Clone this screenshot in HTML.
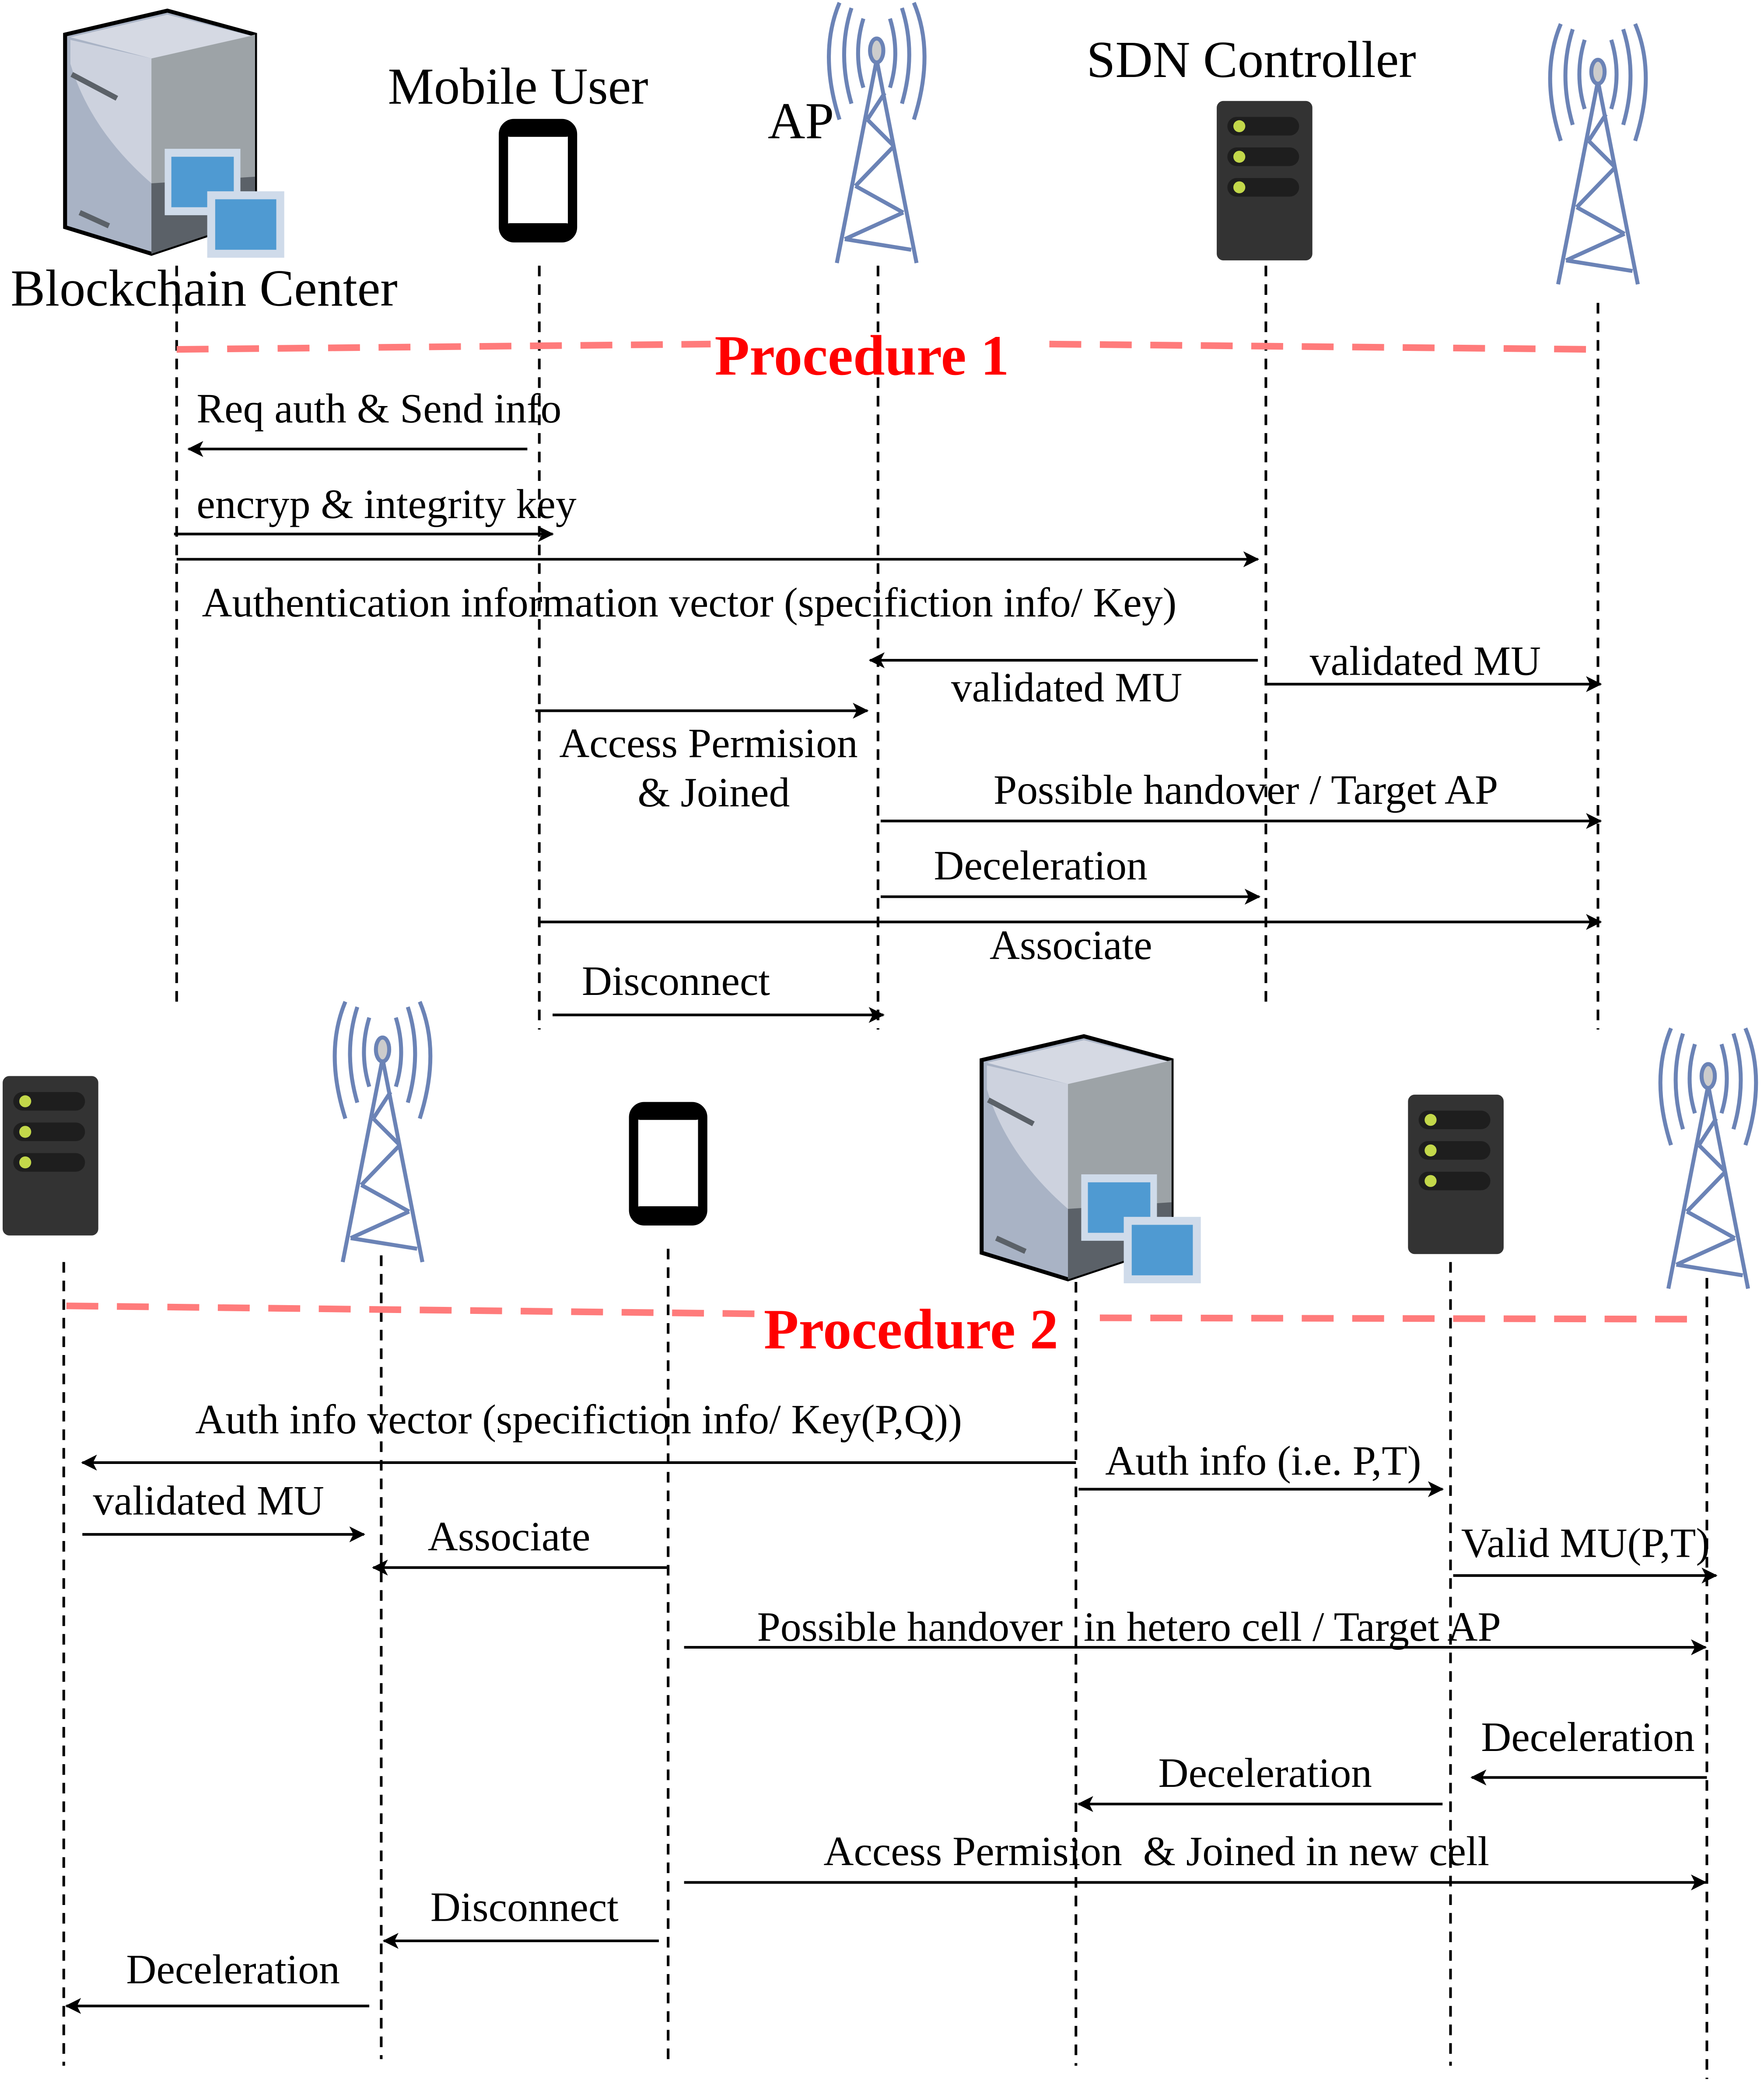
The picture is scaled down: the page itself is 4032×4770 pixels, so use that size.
<!DOCTYPE html>
<html><head><meta charset="utf-8"><style>
html,body{margin:0;padding:0;background:#fff;width:4032px;height:4770px;overflow:hidden}
svg{display:block}
text{font-family:"Liberation Serif",serif;fill:#000}
</style></head><body>
<svg width="4032" height="4770" viewBox="0 0 1328 1571" preserveAspectRatio="none" xmlns="http://www.w3.org/2000/svg">
<defs>
<marker id="a" markerWidth="12" markerHeight="12" refX="11" refY="6" orient="auto" markerUnits="userSpaceOnUse">
<path d="M0,0 L12,6 L0,12 L3,6 Z" fill="#000"/></marker>
<g id="tower" fill="none" stroke="#6b83b6" stroke-width="3">
<path d="M40,45 L10,198 M40,45 L70,198 M33,90 L46,70 M33,90 L53,110 M53,110 L24,140 M24,140 L60,160 M60,160 L16,180 M16,180 L66,188"/>
<path d="M30,14 Q22,40 30,66 M50,14 Q58,40 50,66 M21,6 Q10,40 21,78 M59,6 Q70,40 59,78 M12,2 Q-4,40 12,90 M68,2 Q84,40 68,90"/>
<ellipse cx="40" cy="38" rx="5" ry="9" fill="#ccc"/>
</g>
<g id="rack">
<rect x="0" y="0" width="72" height="120" rx="5" fill="#333"/>
<rect x="8" y="12" width="54" height="14" rx="7" fill="#1e1e1e"/>
<rect x="8" y="35" width="54" height="14" rx="7" fill="#1e1e1e"/>
<rect x="8" y="58" width="54" height="14" rx="7" fill="#1e1e1e"/>
<circle cx="17" cy="19" r="4.5" fill="#c3d84a"/><circle cx="17" cy="42" r="4.5" fill="#c3d84a"/><circle cx="17" cy="65" r="4.5" fill="#c3d84a"/>
</g>
<g id="phone"><rect x="3" y="3" width="52" height="86" rx="8" fill="#fff" stroke="#000" stroke-width="7"/><rect x="3" y="3" width="52" height="10" rx="5" fill="#000"/><rect x="3" y="78" width="52" height="11" rx="5" fill="#000"/></g>
<g id="bc">
<path d="M1,18 L78,0 L144,18 L144,157 L66,183 L1,163 Z" fill="#a9b3c5" stroke="#000" stroke-width="3"/>
<path d="M66,36 L144,18 L144,157 L66,183 Z" fill="#9da3a7"/>
<path d="M66,130 L144,125 L144,157 L66,183 Z" fill="#5b6168"/>
<path d="M5,20 L78,3 L141,19 L66,36 Z" fill="#d5d9e3"/>
<path d="M5,22 L66,36 L66,130 Q20,90 5,40 Z" fill="#cdd2de"/>
<path d="M6,48 L40,66" stroke="#5b6168" stroke-width="4"/>
<path d="M12,152 L34,162" stroke="#5b6168" stroke-width="4"/>
<rect x="76" y="104" width="57" height="50" fill="#cfdbea"/><rect x="81" y="110" width="47" height="38" fill="#4f9ad2"/>
<rect x="108" y="136" width="58" height="50" fill="#cfdbea"/><rect x="114" y="142" width="46" height="38" fill="#4f9ad2"/>
</g>
</defs>

<use href="#bc" transform="translate(48,8)"/>
<use href="#phone" transform="translate(376,90)"/>
<use href="#tower" transform="translate(620,0)"/>
<use href="#rack" transform="translate(916,76)"/>
<use href="#tower" transform="translate(1163,16)"/>
<text x="8" y="230" font-size="39">Blockchain Center</text>
<text x="292" y="78" font-size="39">Mobile User</text>
<text x="578" y="104" font-size="39">AP</text>
<text x="818" y="58" font-size="39">SDN Controller</text>

<g stroke="#000" stroke-width="2" stroke-dasharray="8,6" fill="none">
<path d="M133,200 V755 M406,200 V775 M661,200 V775 M953,200 V755 M1203,228 V775"/>
<path d="M48,950 V1555 M287,945 V1550 M503,940 V1550 M810,965 V1555 M1092,950 V1555 M1285,962 V1565"/>
</g>

<g stroke="#ff7b7b" stroke-width="5" stroke-dasharray="24,14" fill="none">
<path d="M133,263 L535,259 M790,259 L1200,263"/>
<path d="M50,983 L570,989 M828,992 L1272,993"/>
</g>
<text x="538" y="282" font-size="43" font-weight="bold" style="fill:#ff0000">Procedure 1</text>
<text x="575" y="1015" font-size="43" font-weight="bold" style="fill:#ff0000">Procedure 2</text>

<g stroke="#000" stroke-width="2" marker-end="url(#a)" fill="none">
<path d="M397,338 H142"/><path d="M131,402 H416"/><path d="M133,421 H947"/>
<path d="M947,497 H655"/><path d="M953,515 H1205"/><path d="M403,535 H653"/>
<path d="M663,618 H1205"/><path d="M663,675 H948"/><path d="M406,694 H1205"/>
<path d="M416,764 H665"/>
<path d="M810,1101 H62"/><path d="M812,1121 H1086"/><path d="M62,1155 H274"/>
<path d="M502,1180 H281"/><path d="M1094,1186 H1292"/><path d="M515,1240 H1284"/>
<path d="M1285,1338 H1108"/><path d="M1086,1358 H812"/><path d="M515,1417 H1284"/>
<path d="M496,1461 H289"/><path d="M278,1510 H50"/>
</g>

<g font-size="31.5">
<text x="148" y="318">Req auth &amp; Send info</text>
<text x="148" y="390">encryp &amp; integrity key</text>
<text x="152" y="464">Authentication information vector (specifiction info/ Key)</text>
<text x="716" y="528">validated MU</text>
<text x="986" y="508">validated MU</text>
<text x="421" y="570">Access Permision</text>
<text x="480" y="607">&amp; Joined</text>
<text x="748" y="605">Possible handover / Target AP</text>
<text x="703" y="662">Deceleration</text>
<text x="745" y="722">Associate</text>
<text x="438" y="749">Disconnect</text>
<text x="147" y="1079">Auth info vector (specifiction info/ Key(P,Q))</text>
<text x="832" y="1110">Auth info (i.e. P,T)</text>
<text x="70" y="1140">validated MU</text>
<text x="322" y="1167">Associate</text>
<text x="1100" y="1172">Valid MU(P,T)</text>
<text x="570" y="1235" xml:space="preserve">Possible handover  in hetero cell / Target AP</text>
<text x="1115" y="1318">Deceleration</text>
<text x="872" y="1345">Deceleration</text>
<text x="620" y="1404" xml:space="preserve">Access Permision  &amp; Joined in new cell</text>
<text x="324" y="1446">Disconnect</text>
<text x="95" y="1493">Deceleration</text>
</g>

<use href="#rack" transform="translate(2,810)"/>
<use href="#tower" transform="translate(248,752)"/>
<use href="#phone" transform="translate(474,830)"/>
<use href="#bc" transform="translate(738,780)"/>
<use href="#rack" transform="translate(1060,824)"/>
<use href="#tower" transform="translate(1246,772)"/>
</svg>
</body></html>
